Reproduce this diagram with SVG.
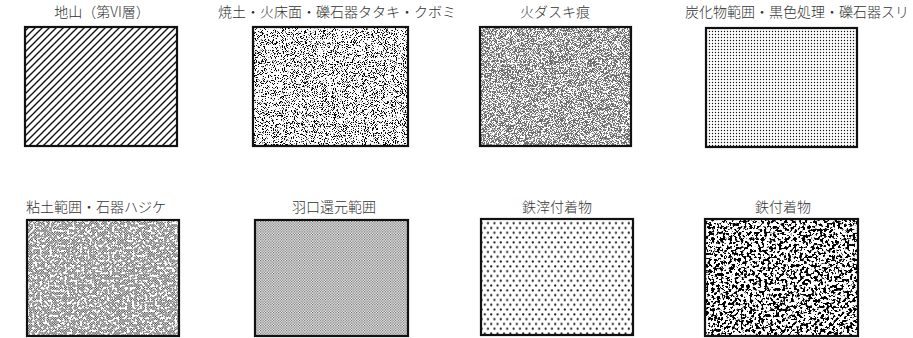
<svg xmlns="http://www.w3.org/2000/svg" width="913" height="338" viewBox="0 0 913 338">
<style>
.lbl{font-family:"Noto Sans CJK JP","Noto Sans",sans-serif;font-size:14px;font-weight:300;fill:#333;text-anchor:middle}
.frame{fill:none;stroke:#111;stroke-width:2.2}
.bg{fill:#fff}
</style>
<defs>
<pattern id="hatch" patternUnits="userSpaceOnUse" width="7" height="7">
<path d="M-1,8 L8,-1 M-4,4 L4,-4 M3,11 L11,3" stroke="#111" stroke-width="1.4"/>
</pattern>
<pattern id="finedots" patternUnits="userSpaceOnUse" width="3" height="3">
<circle cx="1.5" cy="1.5" r="0.7" fill="#111"/>
</pattern>
<pattern id="checker" patternUnits="userSpaceOnUse" width="2.4" height="2.4">
<rect x="0" y="0" width="1.2" height="1.2" fill="#333"/>
<rect x="1.2" y="1.2" width="1.2" height="1.2" fill="#333"/>
</pattern>
<pattern id="checker2" patternUnits="userSpaceOnUse" width="2.6" height="2.6">
<rect x="0" y="0" width="1.2" height="1.2" fill="#555"/>
<rect x="1.3" y="1.3" width="1.2" height="1.2" fill="#555"/>
</pattern>
<pattern id="dots" patternUnits="userSpaceOnUse" width="6.4" height="9.6">
<circle cx="1.6" cy="2.4" r="1.1" fill="#111"/>
<circle cx="4.8" cy="7.2" r="1.1" fill="#111"/>
</pattern>
<filter id="n2" filterUnits="userSpaceOnUse" x="253" y="27" width="155" height="119">
<feTurbulence type="fractalNoise" baseFrequency="1.1" numOctaves="2" seed="4"/>
<feColorMatrix type="matrix" values="0 0 0 0 0  0 0 0 0 0  0 0 0 0 0  -14 0 0 0 6.3"/>
</filter>
<filter id="n3" filterUnits="userSpaceOnUse" x="480" y="27" width="151" height="119">
<feTurbulence type="fractalNoise" baseFrequency="1.4" numOctaves="3" seed="7"/>
<feColorMatrix type="matrix" values="0 0 0 0 0.15  0 0 0 0 0.15  0 0 0 0 0.15  -12 0 0 0 6.6"/>
</filter>
<filter id="n5" filterUnits="userSpaceOnUse" x="27" y="220" width="152" height="116">
<feTurbulence type="fractalNoise" baseFrequency="0.4" numOctaves="3" seed="11"/>
<feColorMatrix type="matrix" values="0 0 0 0 1  0 0 0 0 1  0 0 0 0 1  -14 0 0 0 6.5"/>
</filter>
<filter id="n8" filterUnits="userSpaceOnUse" x="705" y="219" width="153" height="117">
<feTurbulence type="fractalNoise" baseFrequency="0.34" numOctaves="3" seed="2"/>
<feColorMatrix type="matrix" values="0 0 0 0 0  0 0 0 0 0  0 0 0 0 0  -16 0 0 0 7.9"/>
</filter>
</defs>

<g id="node-jiyama">
<text class="lbl" x="102" y="17">地山（第VI層）</text>
<rect class="bg" x="25" y="27" width="152" height="119"/>
<rect x="25" y="27" width="152" height="119" fill="url(#hatch)"/>
<rect class="frame" x="25" y="27" width="152" height="119"/>
</g>

<g id="node-shodo">
<text class="lbl" x="337" y="17">焼土・火床面・礫石器タタキ・クボミ</text>
<rect class="bg" x="253" y="27" width="155" height="119"/>
<rect x="253" y="27" width="155" height="119" filter="url(#n2)"/>
<rect class="frame" x="253" y="27" width="155" height="119"/>
</g>

<g id="node-hidasuki">
<text class="lbl" x="555" y="17">火ダスキ痕</text>
<rect class="bg" x="480" y="27" width="151" height="119"/>
<rect x="480" y="27" width="151" height="119" filter="url(#n3)"/>
<rect class="frame" x="480" y="27" width="151" height="119"/>
</g>

<g id="node-tankabutsu">
<text class="lbl" x="797" y="17">炭化物範囲・黒色処理・礫石器スリ</text>
<rect class="bg" x="706" y="28" width="151" height="119"/>
<rect x="706" y="28" width="151" height="119" fill="url(#finedots)"/>
<rect class="frame" x="706" y="28" width="151" height="119"/>
</g>

<g id="node-nendo">
<text class="lbl" x="96" y="212">粘土範囲・石器ハジケ</text>
<rect class="bg" x="27" y="220" width="152" height="116"/>
<rect x="27" y="220" width="152" height="116" fill="url(#checker)"/>
<rect x="27" y="220" width="152" height="116" filter="url(#n5)"/>
<rect class="frame" x="27" y="220" width="152" height="116"/>
</g>

<g id="node-haguchi">
<text class="lbl" x="334" y="212">羽口還元範囲</text>
<rect class="bg" x="255" y="220" width="153" height="116"/>
<rect x="255" y="220" width="153" height="116" fill="url(#checker2)"/>
<rect class="frame" x="255" y="220" width="153" height="116"/>
</g>

<g id="node-tessai">
<text class="lbl" x="557" y="212">鉄滓付着物</text>
<rect class="bg" x="481" y="219" width="152" height="116"/>
<rect x="481" y="219" width="152" height="116" fill="url(#dots)"/>
<rect class="frame" x="481" y="219" width="152" height="116"/>
</g>

<g id="node-tetsu">
<text class="lbl" x="783" y="212">鉄付着物</text>
<rect class="bg" x="705" y="219" width="153" height="117"/>
<rect x="705" y="219" width="153" height="117" filter="url(#n8)"/>
<rect class="frame" x="705" y="219" width="153" height="117"/>
</g>

<g id="connectors"/>
</svg>
